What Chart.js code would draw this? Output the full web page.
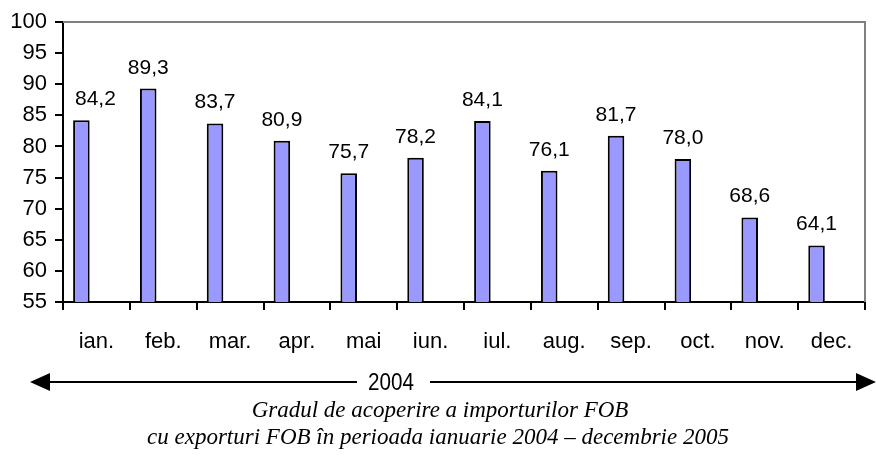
<!DOCTYPE html>
<html>
<head>
<meta charset="utf-8">
<script src="https://cdn.jsdelivr.net/npm/chart.js@4"></script>
<style>
  html, body { margin:0; padding:0; background:#fff; }
  #wrap { width:876px; height:457px; }
</style>
</head>
<body>
<div id="wrap"><canvas id="chart" width="876" height="457"></canvas></div>
<script>
// ---- data ----
const MONTHS = ["ian.", "feb.", "mar.", "apr.", "mai", "iun.", "iul.", "aug.", "sep.", "oct.", "nov.", "dec."];
const COVER_2004 = [84.2, 89.3, 83.7, 80.9, 75.7, 78.2, 84.1, 76.1, 81.7, 78.0, 68.6, 64.1];
// 2005 series is not shown in this crop, but it keeps its slot in each group
const COVER_2005 = [null, null, null, null, null, null, null, null, null, null, null, null];
const Y_MIN = 55, Y_MAX = 100, Y_STEP = 5;
const YEAR_LABEL = "2004";
const CAPTION = [
  "Gradul de acoperire a importurilor FOB",
  "cu exporturi FOB în perioada ianuarie 2004 – decembrie 2005"
];

const SANS = "'Liberation Sans', Arial, sans-serif";
const fmt = v => v.toFixed(1).replace(".", ",");

// value labels above the bars (kept clear of the y axis)
const valueLabels = {
  id: "valueLabels",
  afterDatasetsDraw(chart){
    const ctx = chart.ctx;
    const a = chart.chartArea;
    const meta = chart.getDatasetMeta(0);
    ctx.save();
    ctx.font = "21px " + SANS;
    ctx.fillStyle = "#000";
    ctx.textAlign = "center";
    ctx.textBaseline = "alphabetic";
    meta.data.forEach((bar, i) => {
      const txt = fmt(COVER_2004[i]);
      const w = ctx.measureText(txt).width;
      const x = Math.max(bar.x, a.left + w/2 + 12);
      ctx.fillText(txt, x, bar.y - 15);
    });
    ctx.restore();
  }
};

// grey top/right frame + year arrow + caption under the chart
const decor = {
  id: "decor",
  afterDraw(chart){
    const ctx = chart.ctx;
    const a = chart.chartArea;
    ctx.save();
    ctx.strokeStyle = "#808080";
    ctx.lineWidth = 2;
    ctx.beginPath();
    ctx.moveTo(a.left, a.top);
    ctx.lineTo(a.right, a.top);
    ctx.lineTo(a.right, a.bottom);
    ctx.stroke();

    // year arrow
    const y = 382, x0 = 30, x1 = 876;
    const cx = 391;
    ctx.strokeStyle = "#000";
    ctx.lineWidth = 2;
    ctx.beginPath();
    ctx.moveTo(x0 + 18, y); ctx.lineTo(357, y);
    ctx.moveTo(430, y); ctx.lineTo(x1 - 18, y);
    ctx.stroke();
    ctx.fillStyle = "#000";
    ctx.beginPath();
    ctx.moveTo(x0, y); ctx.lineTo(x0 + 20, y - 9); ctx.lineTo(x0 + 20, y + 9); ctx.closePath();
    ctx.moveTo(x1, y); ctx.lineTo(x1 - 20, y - 9); ctx.lineTo(x1 - 20, y + 9); ctx.closePath();
    ctx.fill();
    // condensed year label
    ctx.save();
    ctx.translate(cx, y + 1);
    ctx.scale(0.86, 1);
    ctx.font = "24px " + SANS;
    ctx.textAlign = "center";
    ctx.textBaseline = "middle";
    ctx.fillText(YEAR_LABEL, 0, 0);
    ctx.restore();

    // caption
    ctx.font = "italic 23px 'Liberation Serif', 'Times New Roman', serif";
    ctx.textAlign = "center";
    ctx.textBaseline = "alphabetic";
    ctx.fillText(CAPTION[0], 440, 417);
    ctx.fillText(CAPTION[1], 438, 444);
    ctx.restore();
  }
};

new Chart(document.getElementById("chart"), {
  type: "bar",
  data: {
    labels: MONTHS,
    datasets: [
      { label: "2004", data: COVER_2004, backgroundColor: "#9999FF", borderColor: "#000", borderWidth: 2,
        categoryPercentage: 0.9, barPercentage: 0.55 },
      { label: "2005", data: COVER_2005, backgroundColor: "#993366", borderColor: "#000", borderWidth: 2,
        categoryPercentage: 0.9, barPercentage: 0.55 }
    ]
  },
  options: {
    responsive: false,
    animation: false,
    devicePixelRatio: 1,
    layout: { padding: { left: 0, right: 11, top: 22, bottom: 95 } },
    plugins: { legend: { display: false }, tooltip: { enabled: false } },
    scales: {
      x: {
        grid: { drawOnChartArea: false, drawTicks: true, tickLength: 8, color: "#000", lineWidth: 2, offset: true },
        border: { display: true, color: "#000", width: 2 },
        ticks: { color: "#000", font: { family: SANS, size: 22 }, padding: 19, maxRotation: 0, autoSkip: false },
        afterFit(s){ s.height = 60; }
      },
      y: {
        min: Y_MIN, max: Y_MAX,
        grid: { drawOnChartArea: false, drawTicks: true, tickLength: 8, color: "#000", lineWidth: 2 },
        border: { display: true, color: "#000", width: 2 },
        ticks: { stepSize: Y_STEP, color: "#000", font: { family: SANS, size: 22 }, padding: 8 },
        afterFit(s){ s.width = 63; }
      }
    }
  },
  plugins: [valueLabels, decor]
});
</script>
</body>
</html>
